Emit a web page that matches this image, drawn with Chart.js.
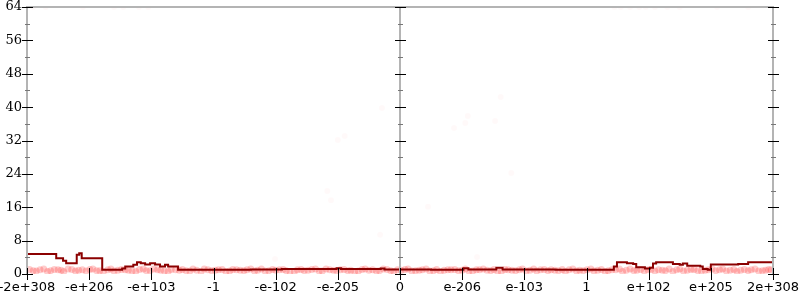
<!DOCTYPE html>
<html>
<head>
<meta charset="utf-8">
<script src="https://cdn.jsdelivr.net/npm/chart.js@4.4.1/dist/chart.umd.min.js"></script>
<style>
  html, body { margin: 0; padding: 0; background: #fff; }
  #wrap { width: 800px; height: 300px; }
</style>
</head>
<body>
<div id="wrap"><canvas id="chart"></canvas></div>
<script>
// x is an ordinal position of the float bit pattern, one unit per labelled tick
let xTickLabels = ['-2e+308', '-e+206', '-e+103', '-1', '-e-102', '-e-205', '0',
                   'e-206', 'e-103', '1', 'e+102', 'e+205', '2e+308'];
let yTicks = [0, 8, 16, 24, 32, 40, 48, 56, 64];

// dark red step line
let lineX = [-6.0, -5.53, -5.42, -5.37, -5.23, -5.20, -5.16, -5.12, -4.79, -4.47, -4.42, -4.29,
             -4.23, -4.17, -4.10, -4.02, -3.94, -3.86, -3.78, -3.73, -3.57, -3.0, -2.4, -1.9,
             -1.02, -0.95, -0.31, -0.25, 0.0, 0.5, 1.02, 1.10, 1.55, 1.65, 2.5,
             3.38, 3.44, 3.49, 3.65, 3.75, 3.80, 3.94, 4.02, 4.07, 4.12, 4.34, 4.39, 4.50,
             4.55, 4.62, 4.83, 4.87, 4.95, 5.00, 5.44, 5.60, 6.0];
let lineY = [4.8, 3.8, 3.2, 2.6, 2.6, 4.6, 5.0, 3.8, 1.0, 1.3, 1.8, 2.2,
             2.8, 2.6, 2.3, 2.6, 2.3, 1.8, 2.2, 1.8, 1.0, 1.0, 1.1, 1.2,
             1.4, 1.2, 1.3, 1.1, 1.1, 1.0, 1.4, 1.1, 1.5, 1.1, 1.0,
             1.0, 1.8, 2.8, 2.6, 2.4, 1.6, 1.3, 1.5, 2.5, 2.8, 2.8, 2.4, 2.2,
             2.5, 2.0, 1.8, 1.2, 1.0, 2.3, 2.4, 2.8, 2.8];

// dense faint samples hugging y ~ 1
let bandX = [-5.96, -5.85, -5.73, -5.62, -5.5, -5.41, -5.28, -5.17, -5.05, -4.94, -4.83, -4.7,
             -4.6, -4.48, -4.37, -4.25, -4.13, -4.02, -3.9, -3.79, -3.68, -3.55, -3.44, -3.33,
             -3.2, -3.09, -2.97, -2.86, -2.74, -2.63, -2.51, -2.4, -2.29, -2.17, -2.05, -1.94,
             -1.83, -1.7, -1.59, -1.48, -1.36, -1.25, -1.13, -1.02, -0.9, -0.79, -0.67, -0.56,
             -0.44, -0.33, -0.21, -0.1, 0.02, 0.13, 0.25, 0.36, 0.48, 0.59, 0.71, 0.82,
             0.94, 1.05, 1.17, 1.28, 1.4, 1.51, 1.63, 1.74, 1.86, 1.97, 2.09, 2.2,
             2.32, 2.43, 2.55, 2.66, 2.78, 2.89, 3.01, 3.12, 3.24, 3.35, 3.47, 3.58,
             3.7, 3.81, 3.93, 4.04, 4.16, 4.27, 4.39, 4.5, 4.62, 4.73, 4.85, 4.96,
             5.08, 5.19, 5.31, 5.42, 5.54, 5.65, 5.77, 5.88, 5.97];
let bandY = [1.1, 0.7, 1.2, 0.8, 1.0, 0.6, 1.1, 0.9, 0.7, 1.2, 0.8, 1.0,
             0.7, 1.1, 0.9, 0.6, 1.2, 0.8, 1.0, 0.7, 1.1, 0.9, 0.8, 1.2,
             0.6, 1.0, 0.9, 1.1, 0.7, 1.0, 0.8, 1.2, 0.9, 0.7, 1.1, 1.0,
             0.8, 0.6, 1.1, 0.9, 1.2, 0.7, 1.0, 0.8, 1.1, 0.9, 0.7, 1.2,
             1.0, 0.8, 1.1, 0.6, 0.9, 1.2, 0.8, 1.0, 0.7, 1.1, 0.9, 1.0,
             0.8, 1.2, 0.7, 1.0, 0.9, 1.1, 0.6, 1.0, 0.8, 1.2, 0.9, 0.7,
             1.1, 1.0, 0.8, 0.6, 1.2, 0.9, 1.0, 0.7, 1.1, 0.8, 1.0, 0.6,
             1.2, 0.9, 0.7, 1.1, 1.0, 0.8, 0.6, 1.2, 0.9, 1.1, 0.7, 1.0,
             0.8, 1.2, 0.9, 0.6, 1.1, 1.0, 0.7, 0.9, 1.0];
// second, offset row of the same band
let band2X = [-5.9, -5.79, -5.67, -5.56, -5.45, -5.34, -5.22, -5.11, -4.99, -4.88, -4.77, -4.65,
              -4.54, -4.42, -4.31, -4.19, -4.08, -3.96, -3.85, -3.73, -3.61, -3.5, -3.38, -3.27,
              -3.15, -3.03, -2.92, -2.8, -2.69, -2.57, -2.46, -2.34, -2.23, -2.11, -2.0, -1.88,
              -1.77, -1.65, -1.54, -1.42, -1.3, -1.19, -1.07, -0.96, -0.84, -0.73, -0.61, -0.5,
              -0.38, -0.27, -0.15, -0.04, 0.08, 0.19, 0.31, 0.42, 0.54, 0.65, 0.77, 0.88,
              1.0, 1.11, 1.23, 1.34, 1.46, 1.57, 1.69, 1.8, 1.92, 2.03, 2.15, 2.26,
              2.38, 2.49, 2.61, 2.72, 2.84, 2.95, 3.07, 3.18, 3.3, 3.41, 3.53, 3.64,
              3.76, 3.87, 3.99, 4.1, 4.22, 4.33, 4.45, 4.56, 4.68, 4.79, 4.91, 5.02,
              5.14, 5.25, 5.37, 5.48, 5.6, 5.71, 5.83, 5.93];
let band2Y = [0.8, 1.0, 0.6, 1.1, 0.9, 1.2, 0.7, 1.0, 1.1, 0.8, 0.6, 1.2,
              0.9, 1.0, 0.7, 1.1, 0.8, 1.2, 0.9, 0.6, 1.0, 1.1, 0.7, 0.9,
              1.2, 0.8, 1.0, 0.6, 1.1, 0.9, 1.0, 0.7, 1.2, 0.8, 0.9, 1.1,
              0.6, 1.0, 0.8, 1.1, 0.7, 1.2, 0.9, 1.0, 0.8, 0.6, 1.1, 0.9,
              0.7, 1.2, 0.8, 1.0, 1.1, 0.7, 0.9, 1.2, 0.8, 0.6, 1.0, 1.1,
              0.9, 0.7, 1.0, 1.2, 0.8, 0.6, 1.1, 0.9, 1.0, 0.7, 1.2, 1.0,
              0.8, 0.9, 1.1, 1.0, 0.7, 0.8, 1.2, 0.9, 0.6, 1.0, 1.2, 0.9,
              0.8, 1.1, 1.0, 0.7, 0.9, 1.2, 1.0, 0.7, 1.1, 0.8, 0.9, 1.2,
              1.0, 0.7, 1.1, 0.9, 0.8, 1.2, 0.8, 1.1];

// sparse faint outliers scattered over the plot
let scatterX = [1.62, 1.09, 1.05, 0.87, 1.53, -0.29, -0.89, -1.0, -1.17, -1.11, 0.45, -0.32, 1.79,
                -2.01, 1.24, -5.9, -5.7, -5.1, -4.6, -4.45, -4.2, -4.05, 3.45, 3.55, 3.7, 3.85,
                3.95, 4.1, 4.3, 4.5, 5.1, 5.6];
let scatterY = [42.4, 37.9, 36.2, 35.0, 36.7, 39.8, 33.1, 32.1, 19.9, 17.7, 16.1, 9.4, 24.2,
                3.6, 4.1, 64, 64, 64, 64, 64, 64, 64, 64, 64, 64, 64,
                64, 64, 64, 64, 64, 64];

function pts(xs, ys) {
  return xs.map(function (x, i) { return { x: x, y: ys[i] }; });
}

let axisFrame = {
  id: 'axisFrame',
  afterDraw: function (chart) {
    let ctx = chart.ctx;
    let xs = chart.scales.x, ys = chart.scales.y;
    let left = xs.getPixelForValue(-6), right = xs.getPixelForValue(6), mid = xs.getPixelForValue(0);
    let top = ys.getPixelForValue(64), bottom = ys.getPixelForValue(0);
    ctx.save();
    ctx.strokeStyle = '#b4b4b4';
    ctx.lineWidth = 2;
    ctx.beginPath();
    ctx.moveTo(left, bottom); ctx.lineTo(left, top); ctx.lineTo(right, top); ctx.lineTo(right, bottom);
    ctx.moveTo(mid, top); ctx.lineTo(mid, bottom);
    ctx.stroke();

    // y ticks on the three vertical axes
    [left, mid, right].forEach(function (ax) {
      for (let v = 0; v <= 64; v += 4) {
        let py = Math.round(ys.getPixelForValue(v)) + 0.5;
        let major = v % 8 === 0;
        ctx.strokeStyle = major ? '#000' : '#777';
        ctx.lineWidth = 1;
        ctx.beginPath();
        ctx.moveTo(ax - (major ? 5 : 2), py);
        ctx.lineTo(ax + (major ? 6 : 3), py);
        ctx.stroke();
      }
    });
    // x ticks on the bottom
    xTickLabels.forEach(function (lab, i) {
      let px = Math.round(xs.getPixelForValue(i - 6)) + 0.5;
      ctx.strokeStyle = '#000';
      ctx.beginPath();
      ctx.moveTo(px, bottom - 6);
      ctx.lineTo(px, bottom + 6);
      ctx.stroke();
    });

    ctx.fillStyle = '#000';
    ctx.font = '13px "DejaVu Serif"';
    ctx.textAlign = 'right';
    ctx.textBaseline = 'middle';
    yTicks.forEach(function (v) {
      ctx.fillText(String(v), left - 5, ys.getPixelForValue(v));
    });
    ctx.font = '13px "DejaVu Sans"';
    ctx.textAlign = 'center';
    ctx.textBaseline = 'top';
    xTickLabels.forEach(function (lab, i) {
      ctx.fillText(lab, xs.getPixelForValue(i - 6), bottom + 7);
    });
    ctx.restore();
  }
};

let ctx = document.getElementById('chart').getContext('2d');
let myChart = new Chart(ctx, {
  type: 'scatter',
  data: {
    datasets: [
      {
        data: pts(lineX, lineY),
        showLine: true,
        stepped: true,
        borderColor: '#8b0000',
        borderWidth: 2,
        pointRadius: 0,
        order: 0
      },
      {
        data: pts(bandX, bandY),
        backgroundColor: 'rgba(255,0,0,0.2)',
        borderWidth: 0,
        pointRadius: 3.5,
        order: 1
      },
      {
        data: pts(band2X, band2Y),
        backgroundColor: 'rgba(255,0,0,0.2)',
        borderWidth: 0,
        pointRadius: 3.5,
        order: 1
      },
      {
        data: pts(scatterX, scatterY),
        backgroundColor: 'rgba(255,0,0,0.025)',
        borderWidth: 0,
        pointRadius: 3,
        order: 2
      }
    ]
  },
  options: {
    responsive: true,
    maintainAspectRatio: false,
    animation: false,
    layout: { padding: { left: 27, right: 27, top: 7, bottom: 26 } },
    plugins: { legend: { display: false }, tooltip: { enabled: false } },
    scales: {
      x: { type: 'linear', min: -6, max: 6, display: false },
      y: { type: 'linear', min: 0, max: 64, display: false }
    }
  },
  plugins: [axisFrame]
});
</script>
</body>
</html>
